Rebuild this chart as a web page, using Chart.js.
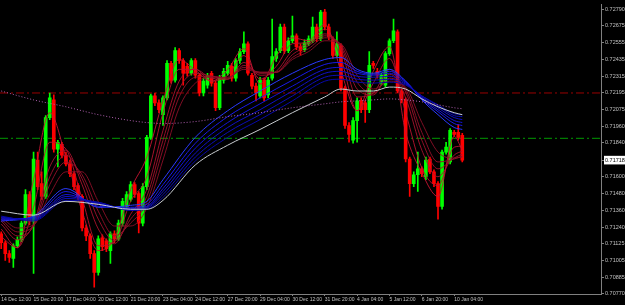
<!DOCTYPE html>
<html>
<head>
<meta charset="utf-8">
<script src="https://cdn.jsdelivr.net/npm/chart.js@4.4.1/dist/chart.umd.min.js"></script>
<style>
  html, body { margin: 0; padding: 0; background: #000; }
  #wrap { width: 625px; height: 305px; position: relative; }
</style>
</head>
<body>
<div id="wrap"><canvas id="chart"></canvas></div>
<script>
// H4 candles, 14 Dec 12:00 .. 10 Jan 12:00
const opens = [0.71194,0.71131,0.71054,0.71019,0.71110,0.71152,0.71271,0.71474,0.71285,0.71719,
  0.71551,0.71460,0.72020,0.72146,0.71796,0.71831,0.71754,0.71691,0.71621,0.71537,
  0.71460,0.71236,0.71180,0.71054,0.70921,0.71166,0.71145,0.71075,0.71194,0.71159,
  0.71271,0.71390,0.71439,0.71544,0.71481,0.71271,0.71530,0.71880,0.72174,0.72125,
  0.72041,0.72160,0.72405,0.72286,0.72496,0.72426,0.72384,0.72335,0.72426,0.72321,
  0.72195,0.72251,0.72335,0.72265,0.72090,0.72286,0.72335,0.72384,0.72300,0.72426,
  0.72489,0.72545,0.72321,0.72244,0.72174,0.72286,0.72181,0.72300,0.72440,0.72496,
  0.72664,0.72496,0.72566,0.72601,0.72524,0.72503,0.72545,0.72566,0.72664,0.72580,
  0.72769,0.72664,0.72573,0.72461,0.72531,0.72230,0.71964,0.71859,0.71999,0.72139,
  0.72125,0.72076,0.72405,0.72349,0.72265,0.72251,0.72475,0.72566,0.72629,0.72209,
  0.72146,0.71726,0.71551,0.71614,0.71656,0.71600,0.71726,0.71635,0.71551,0.71390,
  0.71775,0.71705,0.71915,0.71915,0.71894];
const highs = [0.71208,0.71145,0.71075,0.71124,0.71173,0.71285,0.71509,0.71495,0.71775,0.71775,
  0.71635,0.72034,0.72195,0.72181,0.71859,0.71845,0.71775,0.71719,0.71635,0.71551,
  0.71474,0.71257,0.71194,0.71075,0.71180,0.71187,0.71159,0.71208,0.71215,0.71292,
  0.71446,0.71495,0.71565,0.71558,0.71495,0.71551,0.71894,0.72188,0.72195,0.72146,
  0.72174,0.72426,0.72419,0.72517,0.72510,0.72440,0.72405,0.72440,0.72440,0.72335,
  0.72300,0.72335,0.72349,0.72279,0.72321,0.72370,0.72419,0.72405,0.72440,0.72510,
  0.72629,0.72559,0.72335,0.72265,0.72307,0.72300,0.72307,0.72720,0.72510,0.72685,
  0.72685,0.72587,0.72741,0.72615,0.72545,0.72573,0.72601,0.72734,0.72685,0.72783,
  0.72790,0.72685,0.72594,0.72629,0.72545,0.72244,0.71985,0.72020,0.72160,0.72160,
  0.72139,0.72489,0.72419,0.72370,0.72335,0.72489,0.72580,0.72720,0.72643,0.72223,
  0.72160,0.71740,0.71635,0.71775,0.71670,0.71740,0.71740,0.71649,0.71565,0.71789,
  0.71845,0.71943,0.71929,0.71971,0.71908];
const lows = [0.71089,0.71005,0.70991,0.70956,0.71096,0.71138,0.71257,0.71257,0.70914,0.71509,
  0.71439,0.71446,0.72006,0.71775,0.71670,0.71733,0.71677,0.71600,0.71509,0.71439,
  0.71215,0.71145,0.71019,0.70816,0.70900,0.71075,0.71068,0.70984,0.71131,0.71145,
  0.71250,0.71369,0.71425,0.71453,0.71201,0.71250,0.71509,0.71866,0.72104,0.72055,
  0.71964,0.72146,0.72265,0.72272,0.72405,0.72251,0.72314,0.72321,0.72300,0.72174,
  0.72174,0.72230,0.72244,0.72069,0.72076,0.72265,0.72321,0.72279,0.72279,0.72405,
  0.72475,0.72321,0.72223,0.72139,0.72160,0.72139,0.72160,0.72286,0.72419,0.72482,
  0.72475,0.72482,0.72552,0.72503,0.72461,0.72489,0.72531,0.72552,0.72559,0.72566,
  0.72643,0.72573,0.72440,0.72447,0.72209,0.71943,0.71845,0.71838,0.71845,0.72055,
  0.71985,0.72055,0.72370,0.72300,0.72251,0.72237,0.72461,0.72552,0.72195,0.72125,
  0.71705,0.71460,0.71530,0.71495,0.71600,0.71579,0.71621,0.71530,0.71299,0.71369,
  0.71761,0.71691,0.71887,0.71859,0.71705];
const closes = [0.71131,0.71054,0.71026,0.71110,0.71152,0.71271,0.71474,0.71285,0.71726,0.71530,
  0.71460,0.72020,0.72160,0.71796,0.71845,0.71754,0.71691,0.71621,0.71530,0.71460,
  0.71236,0.71180,0.71054,0.70921,0.71159,0.71103,0.71089,0.71194,0.71159,0.71271,
  0.71425,0.71474,0.71544,0.71474,0.71271,0.71530,0.71880,0.72174,0.72125,0.72076,
  0.72160,0.72405,0.72286,0.72496,0.72426,0.72335,0.72335,0.72426,0.72321,0.72195,
  0.72279,0.72314,0.72265,0.72090,0.72300,0.72349,0.72391,0.72300,0.72426,0.72489,
  0.72545,0.72335,0.72244,0.72195,0.72286,0.72160,0.72286,0.72454,0.72489,0.72664,
  0.72496,0.72566,0.72601,0.72524,0.72496,0.72552,0.72580,0.72664,0.72580,0.72769,
  0.72664,0.72594,0.72461,0.72545,0.72230,0.71964,0.71901,0.71999,0.72139,0.72076,
  0.72076,0.72391,0.72391,0.72321,0.72321,0.72475,0.72566,0.72636,0.72209,0.72146,
  0.71726,0.71551,0.71614,0.71656,0.71621,0.71719,0.71635,0.71551,0.71390,0.71775,
  0.71810,0.71929,0.71901,0.71880,0.71718];

// short moving averages (red), read every 4 bars
const fastBars = [0,4,8,12,16,20,24,28,32,36,40,44,48,52,56,60,64,68,72,76,80,84,88,92,96,100,104,108,112,114];
const red1 = [0.71173,0.71096,0.71579,0.72055,0.71740,0.71355,0.71075,0.71159,0.71509,0.71740,0.72139,0.72433,0.72356,0.72279,0.72363,0.72510,0.72258,0.72454,0.72587,0.72566,0.72685,0.72349,0.72069,0.72349,0.72524,0.71915,0.71628,0.71460,0.71887,0.71789];
const red2 = [0.71229,0.71096,0.71383,0.71845,0.71796,0.71446,0.71110,0.71138,0.71425,0.71600,0.72055,0.72363,0.72363,0.72279,0.72321,0.72461,0.72293,0.72384,0.72545,0.72552,0.72650,0.72440,0.72069,0.72265,0.72440,0.72055,0.71663,0.71537,0.71810,0.71817];
const red3 = [0.71264,0.71152,0.71264,0.71670,0.71789,0.71544,0.71229,0.71124,0.71334,0.71509,0.71929,0.72279,0.72363,0.72300,0.72293,0.72412,0.72321,0.72349,0.72496,0.72545,0.72615,0.72503,0.72167,0.72195,0.72363,0.72160,0.71789,0.71600,0.71754,0.71782];
const red4 = [0.71285,0.71180,0.71250,0.71600,0.71754,0.71586,0.71299,0.71145,0.71299,0.71460,0.71859,0.72223,0.72335,0.72314,0.72293,0.72391,0.72335,0.72342,0.72468,0.72531,0.72601,0.72524,0.72223,0.72181,0.72328,0.72202,0.71859,0.71656,0.71733,0.71761];
const red5 = [0.71299,0.71208,0.71250,0.71544,0.71705,0.71614,0.71355,0.71180,0.71271,0.71418,0.71796,0.72167,0.72307,0.72314,0.72300,0.72377,0.72342,0.72342,0.72447,0.72510,0.72587,0.72538,0.72272,0.72195,0.72300,0.72223,0.71915,0.71705,0.71726,0.71747];
const red6 = [0.71313,0.71236,0.71257,0.71474,0.71635,0.71635,0.71425,0.71250,0.71250,0.71376,0.71719,0.72090,0.72265,0.72307,0.72307,0.72363,0.72342,0.72342,0.72433,0.72489,0.72566,0.72545,0.72321,0.72223,0.72279,0.72237,0.71985,0.71775,0.71733,0.71740];

// long moving averages (blue), white and dotted one
const slowBars = [0,8,16,24,32,36,40,48,56,64,72,80,84,88,92,96,100,104,108,112,114];
const blue1 = [0.71285,0.71320,0.71516,0.71383,0.71397,0.71425,0.71579,0.71880,0.72069,0.72209,0.72335,0.72433,0.72447,0.72363,0.72335,0.72363,0.72279,0.72146,0.72041,0.71950,0.71936];
const blue2 = [0.71292,0.71313,0.71495,0.71390,0.71383,0.71404,0.71544,0.71838,0.72027,0.72160,0.72286,0.72398,0.72412,0.72349,0.72328,0.72349,0.72279,0.72153,0.72062,0.71978,0.71964];
const blue3 = [0.71299,0.71306,0.71474,0.71404,0.71376,0.71390,0.71516,0.71803,0.71985,0.72118,0.72244,0.72363,0.72377,0.72335,0.72321,0.72335,0.72272,0.72160,0.72076,0.71999,0.71985];
const blue4 = [0.71306,0.71299,0.71460,0.71411,0.71369,0.71383,0.71495,0.71768,0.71950,0.72076,0.72209,0.72335,0.72349,0.72314,0.72307,0.72314,0.72265,0.72167,0.72090,0.72020,0.72006];
const blue5 = [0.71313,0.71292,0.71446,0.71418,0.71362,0.71376,0.71474,0.71740,0.71915,0.72041,0.72174,0.72307,0.72321,0.72293,0.72286,0.72293,0.72258,0.72174,0.72104,0.72034,0.72027];
const blue6 = [0.71320,0.71285,0.71432,0.71418,0.71362,0.71369,0.71453,0.71712,0.71880,0.72006,0.72139,0.72279,0.72293,0.72272,0.72265,0.72272,0.72251,0.72174,0.72111,0.72048,0.72041];
const whiteMa = [0.71355,0.71327,0.71425,0.71404,0.71369,0.71369,0.71432,0.71684,0.71824,0.71936,0.72055,0.72167,0.72223,0.72209,0.72209,0.72237,0.72223,0.72153,0.72097,0.72055,0.72041];
const dottedMa = [0.72209,0.72146,0.72097,0.72041,0.71999,0.71985,0.71978,0.71992,0.72027,0.72055,0.72090,0.72118,0.72132,0.72139,0.72146,0.72153,0.72146,0.72132,0.72111,0.72090,0.72083];

const levelRed = 0.72195;
const levelGreen = 0.71873;
const lastPrice = 0.71718;

const tickBars = [0,8,16,24,32,40,48,56,64,72,80,88,96,104,112];
const timeLabels = ['14 Dec 12:00','15 Dec 20:00','17 Dec 04:00','20 Dec 12:00','21 Dec 20:00','23 Dec 04:00',
  '24 Dec 12:00','27 Dec 20:00','29 Dec 04:00','30 Dec 12:00','31 Dec 20:00','4 Jan 04:00','5 Jan 12:00',
  '6 Jan 20:00','10 Jan 04:00'];
const priceTicks = [0.72790,0.72675,0.72555,0.72435,0.72315,0.72195,0.72075,0.71960,0.71840,lastPrice,
  0.71600,0.71480,0.71360,0.71240,0.71125,0.71005,0.70885,0.70770];

const X_MIN = -0.3, X_MAX = 148.3;

function candleColor(i) {
  return closes[i] >= opens[i] ? '#00ff00' : '#ff0000';
}
function maLine(bars, vals, color, dash) {
  return {
    type: 'line',
    data: bars.map((b, k) => ({ x: b, y: vals[k] })),
    borderColor: color,
    borderWidth: 1,
    borderDash: dash || [],
    pointRadius: 0,
    cubicInterpolationMode: 'monotone',
    order: 1
  };
}
function levelLine(v, color) {
  return {
    type: 'line',
    data: [{ x: X_MIN, y: v }, { x: X_MAX, y: v }],
    borderColor: color,
    borderWidth: 1,
    borderDash: [8, 3, 2, 3],
    pointRadius: 0,
    order: 20
  };
}

const ctx = document.getElementById('chart').getContext('2d');
const chart = new Chart(ctx, {
  type: 'bar',
  data: {
    datasets: [
      levelLine(levelRed, '#9a0000'),
      levelLine(levelGreen, '#009a00'),
      {
        data: lows.map((l, i) => ({ x: i, y: [l, highs[i]] })),
        backgroundColor: (c) => candleColor(c.dataIndex),
        barThickness: 1,
        grouped: false,
        order: 10
      },
      {
        data: opens.map((o, i) => ({ x: i, y: [o, closes[i]] })),
        backgroundColor: (c) => candleColor(c.dataIndex),
        barThickness: 3,
        minBarLength: 1,
        grouped: false,
        order: 9
      },
      maLine(slowBars, dottedMa, '#b060b0', [1, 2]),
      maLine(slowBars, whiteMa, '#c8ccd0'),
      maLine(slowBars, blue6, '#0808a8'),
      maLine(slowBars, blue5, '#0c0cb8'),
      maLine(slowBars, blue4, '#1010c8'),
      maLine(slowBars, blue3, '#1414d8'),
      maLine(slowBars, blue2, '#1a1ae8'),
      maLine(slowBars, blue1, '#2a3aff'),
      maLine(fastBars, red6, 'rgba(140,16,40,0.9)'),
      maLine(fastBars, red5, 'rgba(150,16,42,0.9)'),
      maLine(fastBars, red4, 'rgba(160,18,44,0.9)'),
      maLine(fastBars, red3, 'rgba(170,18,46,0.9)'),
      maLine(fastBars, red2, 'rgba(185,20,48,0.9)'),
      maLine(fastBars, red1, 'rgba(200,20,50,0.9)')
    ]
  },
  options: {
    responsive: true,
    maintainAspectRatio: false,
    animation: false,
    devicePixelRatio: 1,
    layout: { padding: 0 },
    plugins: { legend: { display: false }, tooltip: { enabled: false } },
    scales: {
      x: {
        type: 'linear',
        min: X_MIN,
        max: X_MAX,
        offset: false,
        border: { color: '#808080' },
        grid: { drawOnChartArea: false, drawTicks: true, tickLength: 2, color: '#808080', offset: false },
        ticks: {
          color: '#c0c0c0',
          font: { family: 'Liberation Sans', size: 5 },
          padding: 1,
          align: 'start',
          maxRotation: 0,
          autoSkip: false,
          callback: (v) => timeLabels[tickBars.indexOf(v)]
        },
        afterBuildTicks: (s) => { s.ticks = tickBars.map(v => ({ value: v })); },
        afterFit: (s) => { s.height = 11; }
      },
      y: {
        position: 'right',
        min: 0.70767,
        max: 0.72825,
        beginAtZero: false,
        border: { color: '#808080' },
        grid: { drawOnChartArea: false, drawTicks: true, tickLength: 3, color: '#808080' },
        ticks: {
          font: { family: 'Liberation Sans', size: 5.5 },
          padding: 1,
          autoSkip: false,
          color: (c) => (c.tick && c.tick.value === lastPrice) ? '#000000' : '#c0c0c0',
          showLabelBackdrop: (c) => !!(c.tick && c.tick.value === lastPrice),
          backdropColor: '#ffffff',
          backdropPadding: { left: 1, right: 1, top: 1, bottom: 1 },
          callback: (v) => v.toFixed(5)
        },
        afterBuildTicks: (s) => { s.ticks = priceTicks.map(v => ({ value: v })); },
        afterFit: (s) => { s.width = 24; }
      }
    }
  }
});
</script>
</body>
</html>
